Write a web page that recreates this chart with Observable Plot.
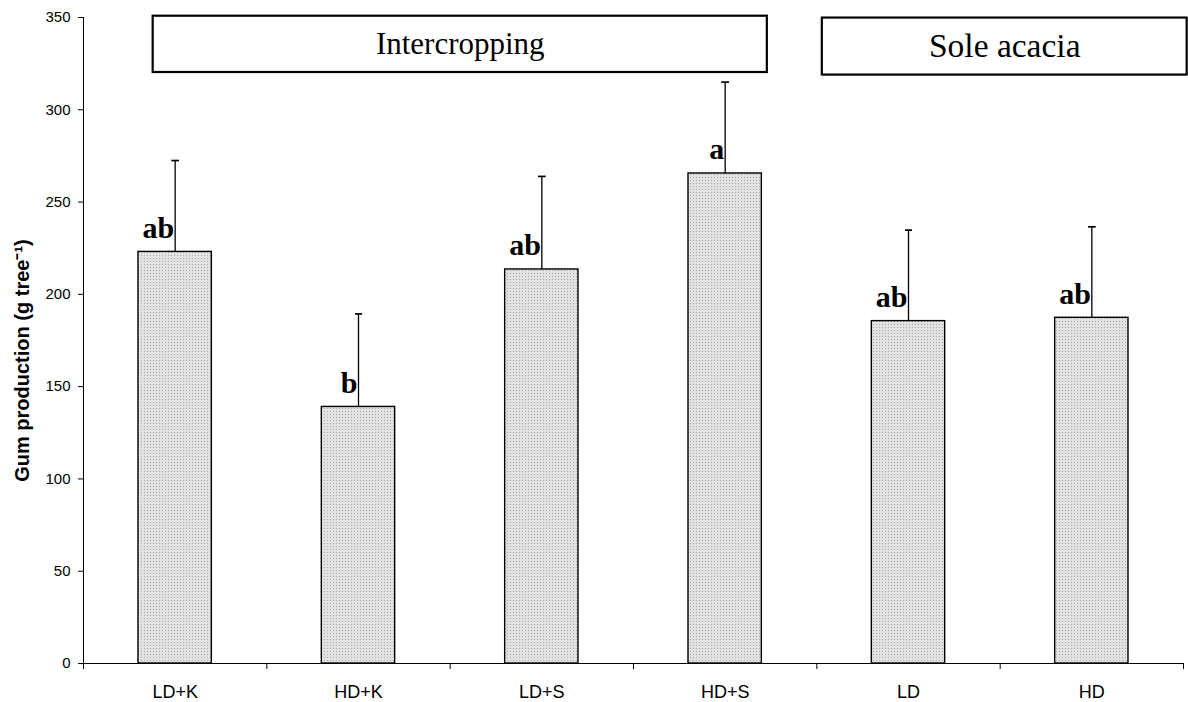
<!DOCTYPE html>
<html><head><meta charset="utf-8">
<script src="https://cdn.jsdelivr.net/npm/d3@7"></script>
<script src="https://cdn.jsdelivr.net/npm/@observablehq/plot@0.6"></script>
<style>body{margin:0;background:#fff}</style>
</head><body><div id="chart"></div>
<script>
const categories = ["LD+K", "HD+K", "LD+S", "HD+S", "LD", "HD"];
const gum = [223, 139, 213.5, 265.5, 185.5, 187.3];
const errors = [49.5, 50.4, 50.4, 49.5, 49.3, 49.3];
const letters = ["ab", "b", "ab", "a", "ab", "ab"];
const yTicks = [0, 50, 100, 150, 200, 250, 300, 350];
const groupLabels = ["Intercropping", "Sole acacia"];
const groupFrom = [0.38, 4.03];
const groupTo = [3.73, 6.02];
const groupBottom = [320.2, 318.8];
const groupTop = [350.7, 349.7];
const yLabel = "Gum production (g tree\u207B\u00B9)";

const rows = categories.map((c, i) => ({cat: c, i, x: i + 0.5, value: gum[i], err: errors[i], letter: letters[i]}));
const groups = groupLabels.map((g, i) => ({label: g, from: groupFrom[i], to: groupTo[i], bottom: groupBottom[i], top: groupTop[i]}));

const sans = "Liberation Sans, Arial, sans-serif";
const serif = "Liberation Serif, Times New Roman, serif";

const chart = Plot.plot({
  width: 1188,
  height: 702,
  marginTop: 17,
  marginBottom: 39,
  marginLeft: 83,
  marginRight: 5,
  style: {fontFamily: sans, color: "black", background: "white"},
  x: {domain: [0, categories.length]},
  y: {domain: [0, 350]},
  marks: [
    Plot.axisY({ticks: yTicks, tickSize: 5, tickPadding: 8, fontSize: 15, label: null}),
    Plot.axisX({ticks: rows.map(d => d.x), tickFormat: d => categories[Math.floor(d)], tickSize: 0, tickPadding: 22, fontSize: 18, label: null}),
    Plot.axisX({ticks: d3.range(categories.length + 1), tickFormat: () => "", tickSize: 6, label: null}),
    Plot.ruleX([0], {y1: 0, y2: 350, stroke: "black"}),
    Plot.ruleY([0], {stroke: "black"}),
    Plot.rectY(rows, {x1: d => d.i + 0.3, x2: d => d.i + 0.7, y1: 0, y2: "value", fill: "url(#dots)", stroke: "black", strokeWidth: 1.4}),
    Plot.link(rows, {x1: "x", x2: "x", y1: "value", y2: d => d.value + d.err, stroke: "black", strokeWidth: 1.3, markerEnd: "tick"}),
    Plot.text(rows, {x: "x", y: "value", text: "letter", textAnchor: "end", lineAnchor: "bottom", dx: -1, dy: -14, fontFamily: serif, fontWeight: "bold", fontSize: 30, fill: "black"}),
    Plot.rect(groups, {x1: "from", x2: "to", y1: "bottom", y2: "top", fill: "white", stroke: "black", strokeWidth: 2.2}),
    Plot.text(groups.slice(0, 1), {x: d => (d.from + d.to) / 2, y: d => (d.bottom + d.top) / 2, text: "label", fontFamily: serif, fontSize: 31, fill: "black"}),
    Plot.text(groups.slice(1), {x: d => (d.from + d.to) / 2, y: d => (d.bottom + d.top) / 2, text: "label", fontFamily: serif, fontSize: 33.5, fill: "black"}),
    Plot.text([yLabel], {text: d => d, frameAnchor: "left", textAnchor: "middle", dx: -61, dy: 20, rotate: -90, fontFamily: sans, fontWeight: "bold", fontSize: 20, fill: "black"})
  ]
});

const svg = d3.select(chart);
const defs = svg.insert("defs", ":first-child");
const pat = defs.append("pattern").attr("id", "dots").attr("width", 3).attr("height", 3).attr("patternUnits", "userSpaceOnUse");
pat.append("rect").attr("width", 3).attr("height", 3).attr("fill", "#e2e2e2");
pat.append("rect").attr("width", 1).attr("height", 1).attr("fill", "#aaaaaa");

document.getElementById("chart").appendChild(chart);
</script>
</body></html>
